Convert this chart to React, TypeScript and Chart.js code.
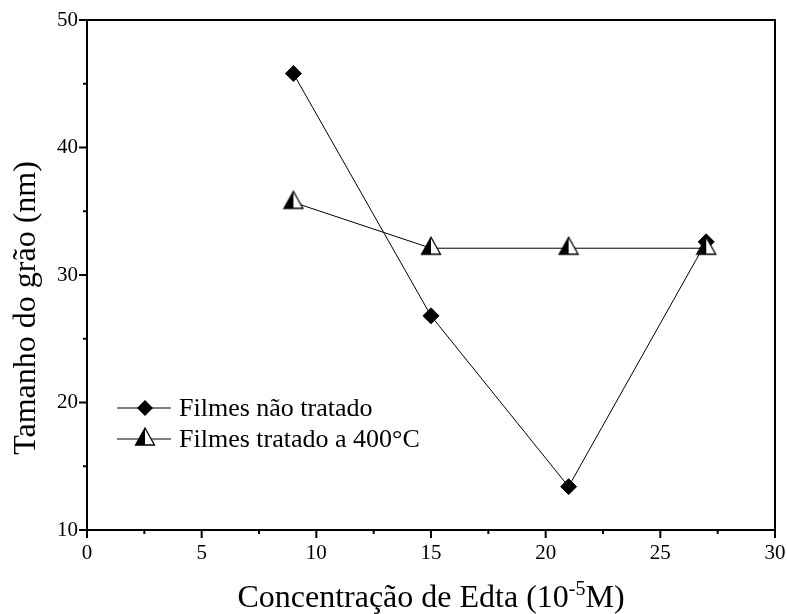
import React, { useEffect, useRef } from "react";
import { Chart, registerables } from "chart.js";

Chart.register(...registerables);

// Edta concentration (10^-5 M)
const concentrations = [9, 15, 21, 27];
// Grain size (nm) for untreated films
const untreatedSizes = [45.8, 26.8, 13.4, 32.6];
// Grain size (nm) for films annealed at 400 °C
const annealedSizes = [35.7, 32.1, 32.1, 32.1];

const seriesLabels = ["Filmes não tratado", "Filmes tratado a 400°C"];
const xTitle = "Concentração de Edta (10";
const xTitleSup = "-5";
const xTitleEnd = "M)";
const yTitle = "Tamanho do grão (nm)";

const xMin = 0, xMax = 30, xStep = 5;
const yMin = 10, yMax = 50, yStep = 10;

const SERIF = "'Liberation Serif', 'Times New Roman', serif";

function makeHalfTriangle(): HTMLCanvasElement {
  const c = document.createElement("canvas");
  c.width = 22;
  c.height = 26;
  const g = c.getContext("2d")!;
  const apexX = 11, apexY = 2, baseY = 19, baseL = 1.5, baseR = 20.5;
  // right half white
  g.beginPath();
  g.moveTo(apexX, apexY);
  g.lineTo(baseR, baseY);
  g.lineTo(apexX, baseY);
  g.closePath();
  g.fillStyle = "#fff";
  g.fill();
  // left half black
  g.beginPath();
  g.moveTo(apexX, apexY);
  g.lineTo(apexX, baseY);
  g.lineTo(baseL, baseY);
  g.closePath();
  g.fillStyle = "#000";
  g.fill();
  // outline
  g.beginPath();
  g.moveTo(apexX, apexY);
  g.lineTo(baseR, baseY);
  g.lineTo(baseL, baseY);
  g.closePath();
  g.strokeStyle = "#000";
  g.lineWidth = 1.3;
  g.lineJoin = "miter";
  g.stroke();
  return c;
}

function drawDiamond(ctx: CanvasRenderingContext2D, x: number, y: number, r: number) {
  ctx.beginPath();
  ctx.moveTo(x, y - r);
  ctx.lineTo(x + r, y);
  ctx.lineTo(x, y + r);
  ctx.lineTo(x - r, y);
  ctx.closePath();
  ctx.fillStyle = "#000";
  ctx.fill();
}

export default function App() {
  const canvasRef = useRef<HTMLCanvasElement | null>(null);

  useEffect(() => {
    const canvas = canvasRef.current;
    if (!canvas) return;
    const tri = makeHalfTriangle();

    const framePlugin = {
      id: "originFrame",
      afterDraw(chart: any) {
        const ctx: CanvasRenderingContext2D = chart.ctx;
        const { left, right, top, bottom } = chart.chartArea;
        const xs = chart.scales.x;
        const ys = chart.scales.y;
        ctx.save();
        // frame
        ctx.strokeStyle = "#000";
        ctx.lineWidth = 2;
        ctx.strokeRect(left, top, right - left, bottom - top);

        // ticks on bottom axis
        for (let v = xMin; v <= xMax + 1e-9; v += xStep / 2) {
          const px = xs.getPixelForValue(v);
          const major = Math.abs(v / xStep - Math.round(v / xStep)) < 1e-6;
          ctx.beginPath();
          ctx.moveTo(px, bottom);
          ctx.lineTo(px, bottom + (major ? 8 : 4));
          ctx.stroke();
        }
        // ticks on left axis
        for (let v = yMin; v <= yMax + 1e-9; v += yStep / 2) {
          const py = ys.getPixelForValue(v);
          const major = Math.abs(v / yStep - Math.round(v / yStep)) < 1e-6;
          ctx.beginPath();
          ctx.moveTo(left, py);
          ctx.lineTo(left - (major ? 8 : 4), py);
          ctx.stroke();
        }

        // axis titles
        ctx.fillStyle = "#000";
        ctx.textBaseline = "alphabetic";
        const titleFont = `32px ${SERIF}`;
        const supFont = `20px ${SERIF}`;
        ctx.font = titleFont;
        const w1 = ctx.measureText(xTitle).width;
        const w3 = ctx.measureText(xTitleEnd).width;
        ctx.font = supFont;
        const w2 = ctx.measureText(xTitleSup).width;
        const total = w1 + w2 + w3;
        const cx = (left + right) / 2;
        let tx = cx - total / 2;
        const ty = 607;
        ctx.textAlign = "left";
        ctx.font = titleFont;
        ctx.fillText(xTitle, tx, ty);
        tx += w1;
        ctx.font = supFont;
        ctx.fillText(xTitleSup, tx, ty - 12);
        tx += w2;
        ctx.font = titleFont;
        ctx.fillText(xTitleEnd, tx, ty);

        ctx.save();
        ctx.translate(35, 308);
        ctx.rotate(-Math.PI / 2);
        ctx.textAlign = "center";
        ctx.font = `32px ${SERIF}`;
        ctx.fillText(yTitle, 0, 0);
        ctx.restore();

        // legend
        const lx = left + 30;
        const rows = [408, 439];
        ctx.font = `26px ${SERIF}`;
        ctx.textBaseline = "middle";
        ctx.textAlign = "left";
        rows.forEach((ry, i) => {
          ctx.strokeStyle = "#000";
          ctx.lineWidth = 1;
          ctx.beginPath();
          ctx.moveTo(lx, ry);
          ctx.lineTo(lx + 54, ry);
          ctx.stroke();
          if (i === 0) {
            drawDiamond(ctx, lx + 28, ry, 8);
          } else {
            ctx.drawImage(tri, lx + 28 - tri.width / 2, ry - tri.height / 2);
          }
          ctx.fillStyle = "#000";
          ctx.fillText(seriesLabels[i], lx + 62, ry + 1);
        });
        ctx.restore();
      },
    };

    const chart = new Chart(canvas, {
      type: "line",
      data: {
        datasets: [
          {
            label: seriesLabels[1],
            data: concentrations.map((x, i) => ({ x, y: annealedSizes[i] })),
            borderColor: "#000",
            borderWidth: 1,
            pointStyle: tri as any,
            pointRadius: 10,
            order: 0,
          },
          {
            label: seriesLabels[0],
            data: concentrations.map((x, i) => ({ x, y: untreatedSizes[i] })),
            borderColor: "#000",
            backgroundColor: "#000",
            borderWidth: 1,
            pointStyle: "rectRot",
            pointRadius: 8,
            pointBackgroundColor: "#000",
            pointBorderColor: "#000",
            pointBorderWidth: 1,
            order: 1,
          },
        ],
      },
      options: {
        animation: false,
        responsive: false,
        maintainAspectRatio: false,
        layout: { padding: { top: 20, right: 12, left: 0, bottom: 0 } },
        plugins: {
          legend: { display: false },
          tooltip: { enabled: false },
        },
        scales: {
          x: {
            type: "linear",
            min: xMin,
            max: xMax,
            grid: { display: false, drawTicks: false },
            border: { display: false },
            ticks: {
              stepSize: xStep,
              color: "#000",
              font: { family: SERIF, size: 21 },
              padding: 11,
              maxRotation: 0,
            },
            afterFit(scale: any) {
              scale.height = 84;
              scale.paddingLeft = 0;
              scale.paddingRight = 0;
            },
          },
          y: {
            type: "linear",
            min: yMin,
            max: yMax,
            grid: { display: false, drawTicks: false },
            border: { display: false },
            ticks: {
              stepSize: yStep,
              color: "#000",
              font: { family: SERIF, size: 21 },
              padding: 9,
            },
            afterFit(scale: any) {
              scale.width = 87;
              scale.paddingTop = 0;
              scale.paddingBottom = 0;
            },
          },
        },
      },
      plugins: [framePlugin],
    });
    return () => chart.destroy();
  }, []);

  return (
    <div style={{ position: "fixed", left: 0, top: 0, width: 787, height: 614, background: "#fff" }}>
      <canvas ref={canvasRef} width={787} height={614} style={{ display: "block" }} />
    </div>
  );
}
